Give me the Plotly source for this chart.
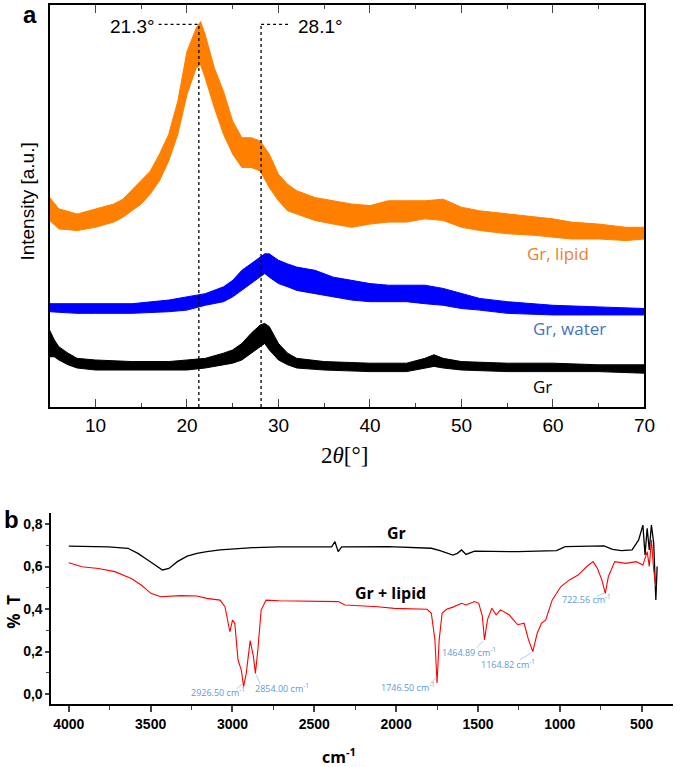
import plotly.graph_objects as go

# ---- panel a: XRD, band (upper / lower edge of the noisy trace)
lipid_x = [5, 6, 8, 10, 12, 13, 15, 16, 17, 18, 19, 20, 21, 21.5, 22, 23, 24, 25, 26, 27, 28, 29, 30,
           31, 32, 34, 36, 38, 40, 42, 44, 46, 48, 50, 52, 55, 58, 60, 62, 65, 68, 70]
lipid_hi = [52.1, 49.3, 48.0, 49.3, 50.5, 51.7, 56.3, 58.7, 62.9, 67.8, 76.1, 88.4, 94.2, 95.9, 92.6,
            84.3, 78.5, 71.1, 67.0, 67.0, 66.2, 62.9, 57.9, 55.4, 53.8, 52.1, 51.3, 50.5, 50.1, 51.3,
            51.3, 51.3, 51.7, 49.7, 48.8, 48.0, 47.2, 46.8, 46.0, 45.5, 44.7, 44.7]
lipid_lo = [46.4, 44.3, 43.9, 44.7, 46.0, 47.2, 50.5, 53.0, 56.3, 61.2, 67.8, 77.7, 84.3, 85.1, 81.8,
            74.4, 67.8, 62.9, 59.6, 59.6, 58.7, 54.6, 51.3, 48.8, 48.0, 46.4, 45.5, 44.7, 45.5, 46.0,
            46.0, 46.8, 46.4, 44.7, 43.9, 43.1, 42.7, 42.2, 41.8, 41.8, 41.4, 41.8]

water_x = [5, 8, 10, 14, 18, 20, 22, 24, 25, 26, 27, 28, 28.5, 29, 30, 31, 32, 34, 36, 38, 40, 42,
           44, 46, 48, 50, 52, 55, 60, 65, 70]
water_hi = [25.7, 25.7, 25.7, 25.7, 26.6, 27.4, 28.2, 29.9, 31.5, 34.0, 35.6, 37.3, 38.1, 38.1, 36.5,
            35.6, 34.8, 34.0, 32.3, 31.5, 30.7, 30.3, 30.3, 30.3, 29.5, 28.2, 27.0, 26.2, 25.3, 24.9, 24.5]
water_lo = [23.7, 23.3, 23.3, 23.3, 23.7, 24.1, 25.3, 26.2, 27.4, 29.0, 30.7, 32.3, 33.2, 32.3, 30.7,
            29.9, 29.0, 28.2, 27.4, 26.6, 26.2, 26.2, 26.2, 25.7, 25.3, 24.5, 24.1, 23.3, 22.9, 22.9, 22.9]

gr_x = [5, 5.5, 6, 7, 8, 10, 14, 18, 20, 22, 24, 25, 26, 27, 28, 28.5, 29, 30, 31, 32, 35, 40, 44,
        46, 47, 48, 50, 55, 60, 65, 70]
gr_hi = [19.1, 16.7, 15.0, 13.4, 12.1, 11.7, 11.3, 11.3, 11.7, 12.1, 13.4, 14.2, 15.8, 18.3, 20.4,
         20.8, 20.0, 15.8, 13.4, 12.1, 11.3, 10.9, 10.9, 12.1, 13.0, 12.1, 11.3, 10.9, 10.9, 10.5, 10.5]
gr_lo = [12.5, 12.5, 11.7, 10.5, 9.7, 9.2, 9.2, 9.2, 9.2, 9.7, 10.5, 10.9, 11.7, 13.4, 15.0,
         15.8, 14.2, 11.7, 10.5, 9.7, 9.2, 8.8, 8.8, 9.7, 10.1, 9.7, 9.2, 8.8, 8.8, 8.8, 8.4]

peak_pos = [21.3, 28.1]
peak_text = ["21.3°", "28.1°"]

# ---- panel b: FTIR
gr_wn = [4000, 3759, 3639, 3578, 3518, 3458, 3428, 3388, 3337, 3277, 3217, 3157, 3076, 2876, 2715,
         2394, 2374, 2354, 2333, 2048, 1785, 1732, 1653, 1626, 1600, 1573, 1521, 1257, 1020, 967,
         730, 677, 624, 558, 518, 492, 479, 466, 453, 440, 426, 413, 405]
gr_t = [0.696, 0.693, 0.686, 0.662, 0.631, 0.599, 0.584, 0.591, 0.623, 0.649, 0.662, 0.670, 0.678,
        0.689, 0.693, 0.693, 0.717, 0.670, 0.693, 0.694, 0.686, 0.675, 0.654, 0.662, 0.678, 0.657,
        0.673, 0.670, 0.675, 0.694, 0.697, 0.681, 0.675, 0.678, 0.725, 0.795, 0.654, 0.780, 0.678,
        0.795, 0.710, 0.443, 0.600]

lip_wn = [4000, 3920, 3819, 3719, 3618, 3558, 3498, 3438, 3317, 3217, 3157, 3076, 3046, 3026, 3016,
          3000, 2986, 2966, 2946, 2932, 2916, 2892, 2872, 2860, 2845, 2825, 2795, 2715, 2514, 2353,
          2313, 2112, 2012, 1811, 1785, 1763, 1750, 1737, 1719, 1692, 1653, 1600, 1573, 1521, 1495,
          1473, 1460, 1442, 1415, 1389, 1362, 1310, 1257, 1218, 1191, 1165, 1138, 1112, 1086, 1046,
          993, 941, 888, 835, 796, 770, 743, 722, 703, 664, 598, 532, 492, 466, 453, 440, 426, 413]
lip_t = [0.618, 0.599, 0.591, 0.576, 0.544, 0.513, 0.474, 0.458, 0.463, 0.461, 0.450, 0.442, 0.411,
         0.333, 0.293, 0.348, 0.333, 0.160, 0.113, 0.035, 0.097, 0.251, 0.176, 0.097, 0.207, 0.395,
         0.442, 0.439, 0.435, 0.435, 0.419, 0.411, 0.403, 0.399, 0.380, 0.255, 0.052, 0.255, 0.380,
         0.399, 0.409, 0.427, 0.419, 0.435, 0.427, 0.365, 0.255, 0.349, 0.404, 0.373, 0.396, 0.373,
         0.326, 0.333, 0.255, 0.200, 0.286, 0.333, 0.349, 0.443, 0.506, 0.537, 0.560, 0.600, 0.623,
         0.591, 0.537, 0.474, 0.553, 0.623, 0.615, 0.623, 0.607, 0.670, 0.600, 0.725, 0.584, 0.506]

band_labels = ["2926.50", "2854.00", "1746.50", "1464.89", "1164.82", "722.56"]
band_lab_x = [3090, 2700, 1925, 1552, 1315, 835]
band_lab_y = [0.008, 0.030, 0.033, 0.196, 0.142, 0.446]
lead_x0 = [2975, 2830, 1790, 1510, 1245, 775]
lead_y0 = [0.025, 0.045, 0.050, 0.215, 0.160, 0.460]
lead_x1 = [2935, 2855, 1752, 1468, 1172, 728]
lead_y1 = [0.050, 0.090, 0.080, 0.250, 0.195, 0.475]

fig = go.Figure()

for x, lo, hi, col in [(lipid_x, lipid_lo, lipid_hi, "#FF8000"),
                       (water_x, water_lo, water_hi, "#0000FF"),
                       (gr_x, gr_lo, gr_hi, "#000000")]:
    fig.add_trace(go.Scatter(x=x, y=lo, mode="lines", line=dict(color=col, width=1),
                             xaxis="x", yaxis="y", showlegend=False))
    fig.add_trace(go.Scatter(x=x, y=hi, mode="lines", line=dict(color=col, width=1),
                             fill="tonexty", fillcolor=col, xaxis="x", yaxis="y", showlegend=False))

mark_top = 95.2
for p in peak_pos:
    fig.add_trace(go.Scatter(x=[p, p], y=[0, mark_top], mode="lines",
                             line=dict(color="black", width=1.3, dash="dot"),
                             xaxis="x", yaxis="y", showlegend=False))
fig.add_trace(go.Scatter(x=[16.9, peak_pos[0]], y=[mark_top, mark_top], mode="lines",
                         line=dict(color="black", width=1.3, dash="dot"),
                         xaxis="x", yaxis="y", showlegend=False))
fig.add_trace(go.Scatter(x=[peak_pos[1], 31.3], y=[mark_top, mark_top], mode="lines",
                         line=dict(color="black", width=1.3, dash="dot"),
                         xaxis="x", yaxis="y", showlegend=False))

fig.add_trace(go.Scatter(x=gr_wn, y=gr_t, mode="lines", line=dict(color="black", width=1.3),
                         xaxis="x2", yaxis="y2", showlegend=False))
fig.add_trace(go.Scatter(x=lip_wn, y=lip_t, mode="lines", line=dict(color="#FF0000", width=1.1),
                         xaxis="x2", yaxis="y2", showlegend=False))
for i in range(len(band_labels)):
    fig.add_trace(go.Scatter(x=[lead_x0[i], lead_x1[i]], y=[lead_y0[i], lead_y1[i]], mode="lines",
                             line=dict(color="#9DC3E6", width=0.8),
                             xaxis="x2", yaxis="y2", showlegend=False))

ann = []
ann.append(dict(x=16.7, y=94.6, xref="x", yref="y", text=peak_text[0], showarrow=False,
                xanchor="right", font=dict(family="Liberation Sans", size=19, color="black")))
ann.append(dict(x=31.9, y=94.6, xref="x", yref="y", text=peak_text[1], showarrow=False,
                xanchor="left", font=dict(family="Liberation Sans", size=19, color="black")))
ann.append(dict(x=60.6, y=38.1, xref="x", yref="y", text="Gr, lipid", showarrow=False,
                font=dict(family="Open Sans", size=17, color="#ED7D31")))
ann.append(dict(x=61.8, y=19.6, xref="x", yref="y", text="Gr, water", showarrow=False,
                font=dict(family="Open Sans", size=17, color="#4472C4")))
ann.append(dict(x=58.9, y=5.1, xref="x", yref="y", text="Gr", showarrow=False,
                font=dict(family="Open Sans", size=17, color="black")))
for i in range(len(band_labels)):
    ann.append(dict(x=band_lab_x[i], y=band_lab_y[i], xref="x2", yref="y2",
                    text=band_labels[i] + " cm<sup>-1</sup>", showarrow=False,
                    font=dict(family="Open Sans", size=9, color="#5B9BD5")))
ann.append(dict(x=1995, y=0.756, xref="x2", yref="y2", text="<b>Gr</b>", showarrow=False,
                font=dict(family="Open Sans", size=16, color="black")))
ann.append(dict(x=2035, y=0.474, xref="x2", yref="y2", text="<b>Gr + lipid</b>", showarrow=False,
                font=dict(family="Open Sans", size=16, color="black")))


def page_text(px, py, text, size, family="Liberation Sans", angle=0):
    # text centred on a pixel position of the 685x767 page
    return dict(x=px / 685, y=1 - py / 767, xref="paper", yref="paper", text=text,
                xanchor="center", yanchor="middle", textangle=angle, showarrow=False,
                font=dict(family=family, size=size, color="black"))


ann.append(page_text(350, 455, "2<i>θ</i>[°]", 23, "Liberation Serif"))
ann.append(page_text(27, 202, "Intensity [a.u.]", 19, angle=-90))
ann.append(page_text(30, 14, "<b>a</b>", 24))
ann.append(page_text(12, 519, "<b>b</b>", 24))
ann.append(page_text(13, 612, "<b>%  T</b>", 17, "Open Sans", angle=-90))
ann.append(page_text(345, 756, "<b>cm<sup>-1</sup></b>", 16, "Open Sans"))

fig.update_layout(
    width=685, height=767, autosize=False,
    margin=dict(l=0, r=0, t=0, b=0, pad=0),
    paper_bgcolor="white", plot_bgcolor="white",
    separators=",.",
    annotations=ann,
    xaxis=dict(domain=[50.5 / 685, 655 / 685], anchor="y", range=[5, 70],
               tickvals=[10, 20, 30, 40, 50, 60, 70], ticks="inside", ticklen=8, tickwidth=1.3,
               minor=dict(tickvals=[15, 25, 35, 45, 55, 65], ticks="inside", ticklen=4, tickwidth=1.2),
               showline=True, linecolor="black", linewidth=1.5, mirror="ticks", showgrid=False,
               zeroline=False, tickfont=dict(family="Liberation Sans", size=19, color="black")),
    yaxis=dict(domain=[1 - 407 / 767, 1 - 5 / 767], anchor="x", range=[0, 100],
               showticklabels=False, ticks="", showline=True, linecolor="black", linewidth=1.5,
               mirror=True, showgrid=False, zeroline=False),
    xaxis2=dict(domain=[52 / 685, 684 / 685], anchor="y2", range=[4108, 308],
                tickvals=[4000, 3500, 3000, 2500, 2000, 1500, 1000, 500], tickformat="d",
                ticks="outside", ticklen=6, tickwidth=1.5,
                minor=dict(tickvals=[3750, 3250, 2750, 2250, 1750, 1250, 750], ticks="outside",
                           ticklen=4, tickwidth=1.2),
                showline=True, linecolor="black", linewidth=1.5, showgrid=False, zeroline=False,
                tickfont=dict(family="Liberation Sans", size=14, color="black", weight="bold")),
    yaxis2=dict(domain=[1 - 704 / 767, 1 - 513 / 767], anchor="x2", range=[-0.047, 0.852],
                tickvals=[0, 0.2, 0.4, 0.6, 0.8], tickformat=".1f", ticks="outside", ticklen=4,
                tickwidth=1.5,
                minor=dict(tickvals=[0.1, 0.3, 0.5, 0.7], ticks="outside", ticklen=3, tickwidth=1.2),
                showline=True, linecolor="black", linewidth=1.5, showgrid=False, zeroline=False,
                tickfont=dict(family="Liberation Sans", size=14, color="black", weight="bold")),
)

# drop the browser's default page margin and scrollbars so the figure sits at the window's corner
fig.write_html("out.html",
               config={"displayModeBar": False, "responsive": False},
               post_script="document.documentElement.style.overflow='hidden';"
                           "document.body.style.margin='0';document.body.style.overflow='hidden';")
